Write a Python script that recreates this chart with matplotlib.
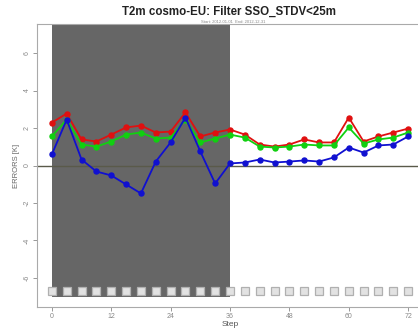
import matplotlib
matplotlib.use("Agg")
import matplotlib.pyplot as plt
import numpy as np

steps = list(range(0, 75, 3))
rmse = [2.29, 2.77, 1.39, 1.28, 1.65, 2.03, 2.13, 1.76, 1.81, 2.83, 1.55, 1.76, 1.92,
        1.65, 1.12, 1.01, 1.12, 1.39, 1.23, 1.23, 2.56, 1.28, 1.55, 1.76, 1.97]
mae = [1.55, 2.45, 1.12, 1.01, 1.28, 1.65, 1.76, 1.44, 1.49, 2.45, 1.23, 1.44, 1.65,
       1.49, 1.01, 0.96, 1.01, 1.12, 1.07, 1.07, 2.03, 1.17, 1.39, 1.49, 1.76]
me = [0.59, 2.45, 0.32, -0.32, -0.53, -1.01, -1.49, 0.21, 1.23, 2.56, 0.75, -0.96, 0.11,
      0.16, 0.32, 0.16, 0.21, 0.27, 0.21, 0.43, 0.96, 0.69, 1.07, 1.12, 1.55]
xticks = [0, 12, 24, 36, 48, 60, 72]
yticks = [-6, -4, -2, 0, 2, 4, 6]
shade_range = (0, 36)

plt.rcParams['font.family'] = ['Liberation Sans', 'DejaVu Sans']
W, H = 418, 331
fig = plt.figure(figsize=(W / 100, H / 100), dpi=100)
ax = fig.add_axes([37 / W, 1 - 307 / H, 386 / W, 283 / H])
ax.set_xlim(-3, 75)
ax.set_ylim(-7.55, 7.55)

ax.axvspan(shade_range[0], shade_range[1], ymin=(7.55 - 7.0) / 15.1, ymax=1,
           color='#666666', zorder=0, lw=0)
ax.axhline(0, color='#5a5a4a', lw=1.0, zorder=1)

ax.plot(steps, rmse, color='#e01010', lw=1.3, marker='o', ms=3.6, zorder=3)
ax.plot(steps, mae, color='#10d010', lw=1.3, marker='o', ms=3.6, zorder=4)
ax.plot(steps, me, color='#1010d0', lw=1.3, marker='o', ms=3.6, zorder=5)

ax.plot(steps, [-6.72] * len(steps), ls='none', marker='s', ms=5.5,
        mfc='#e2e2e2', mec='#b0b0b0', mew=0.9, zorder=3)

ax.set_xticks(xticks)
ax.set_yticks(yticks)
ax.tick_params(labelsize=5, colors='#888888', length=3, width=0.6, pad=1.5)
ax.set_yticklabels([str(t) for t in yticks], rotation=90, va='center')
for s in ax.spines.values():
    s.set_color('#aaaaaa')
    s.set_linewidth(0.8)

ax.set_xlabel('Step', fontsize=6, color='#555555', labelpad=0.5)
ax.set_ylabel('ERRORS [K]', fontsize=5.5, color='#666666', labelpad=3)

fig.text(229 / W, 1 - 12 / H, 'T2m cosmo-EU: Filter SSO_STDV<25m', ha='center', va='center',
         fontsize=8.3, fontweight='bold', color='#222222')
fig.text(233 / W, 1 - 22 / H, 'Start: 2012-01-01  End: 2012-12-31', ha='center', va='center',
         fontsize=3, color='#888888')

fig.savefig('out.png', dpi=100)
